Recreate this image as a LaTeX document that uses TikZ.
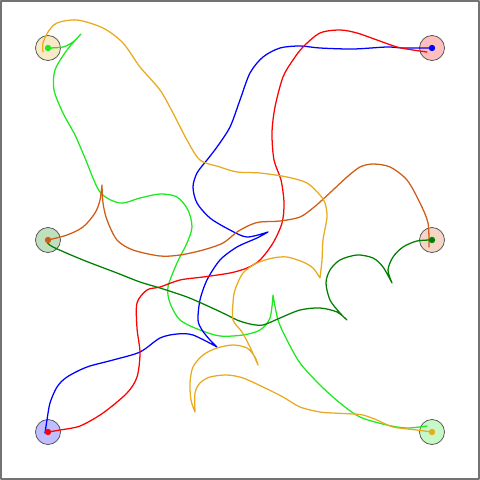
\documentclass[tikz,border=0pt]{standalone}
\definecolor{gold}{RGB}{232,170,32}
\definecolor{choc}{RGB}{208,92,22}
\definecolor{darkgreen}{RGB}{0,128,0}
\definecolor{brightgreen}{RGB}{30,232,30}
\begin{document}
\begin{tikzpicture}[x=0.5mm,y=-0.5mm,line cap=round,line join=round,
  port/.style={circle,draw=black!70,line width=1pt,minimum size=12.5mm,inner sep=0pt},
  knob/.style={circle,inner sep=0pt,minimum size=3.2mm},
  wire/.style={line width=1.8pt}]
  \useasboundingbox (0,0) rectangle (480,480);
  \draw[black!55,line width=2.8pt] (1,1) rectangle (479,479);
  \foreach \n/\x/\y/\c in {tl/48/48/gold,tr/432/48/red,ml/48/240/darkgreen,mr/432/240/choc,bl/48/432/blue,br/432/432/brightgreen} {
    \node[port,fill=\c!25] (\n) at (\x,\y) {};
  }
  % where the wires end
  \coordinate (tl-in) at ([shift={(-5,4)}]tl.center);
  \coordinate (tr-in) at ([shift={(-5,4)}]tr.center);
  \coordinate (ml-in) at ([shift={(-1,2)}]ml.center);
  \coordinate (mr-in) at ([shift={(-3,7)}]mr.center);
  \coordinate (bl-in) at ([shift={(-3,1)}]bl.center);
  \coordinate (br-in) at ([shift={(-5,-6)}]br.center);
  % tl -> br
  \draw[wire,brightgreen] plot[smooth] coordinates {(tl.center) (63,47) (73,42) (81,34)}
    -- plot[smooth] coordinates {(81,34) (67,50) (55,70) (54,90) (63,113) (75,135) (85,158) (100,192) (120,203) (140,198) (160,194) (177,197) (188,210) (192,227) (187,243) (177,263) (168,287) (170,303) (180,320) (200,330) (220,336) (243,335) (260,330) (270,318) (273,295)}
    -- plot[smooth] coordinates {(273,295) (278,320) (287,340) (300,363) (320,385) (340,403) (360,417) (387,425) (407,428) (br-in)};
  % tr -> bl
  \draw[wire,blue] plot[smooth] coordinates {(tr.center) (403,48) (387,47) (353,49) (320,48) (300,46) (280,48) (263,57) (250,73) (240,100) (230,127) (217,147) (207,160) (197,173) (193,187) (197,203) (210,218) (230,230) (247,237) (268,232)}
    -- plot[smooth] coordinates {(268,232) (257,238) (237,247) (220,260) (207,280) (200,300) (198,320) (202,330) (210,340) (217,347)}
    -- plot[smooth] coordinates {(217,347) (193,335) (177,334) (160,338) (140,352) (113,360) (87,367) (67,377) (57,387) (50,403) (47,420) (bl-in)};
  % bl -> tr
  \draw[wire,red] plot[smooth] coordinates {(bl.center) (60,430) (80,426) (103,413) (127,393) (137,377) (140,353) (137,328) (137,303) (147,290) (160,287) (180,280) (203,277) (230,273) (247,268) (260,260) (273,243) (282,223) (284,203) (281,180) (274,160) (272,133) (275,107) (283,77) (293,60) (303,47) (320,33) (340,30) (357,33) (377,40) (397,47) (413,50) (tr-in)};
  % ml -> mr
  \draw[wire,choc] plot[smooth] coordinates {(ml.center) (67,235) (83,227) (95,213) (100,200) (102,185)}
    -- plot[smooth] coordinates {(102,185) (103,203) (107,220) (117,240) (133,250) (160,256) (180,255) (203,250) (223,243) (237,232) (250,225) (260,222) (280,221) (300,217) (313,208) (320,202) (333,190) (347,177) (360,167) (373,164) (390,167) (407,180) (420,203) (428,223) (mr-in)};
  % mr -> ml
  \draw[wire,darkgreen] plot[smooth] coordinates {(mr.center) (417,241) (403,247) (393,257) (388,270) (392,283)}
    -- plot[smooth] coordinates {(392,283) (383,267) (373,258) (357,255) (340,260) (330,270) (326,283) (330,300) (340,313) (347,320)}
    -- plot[smooth] coordinates {(347,320) (337,312) (320,308) (300,310) (280,318) (263,325) (250,324) (237,320) (227,315) (210,307) (187,297) (160,288) (140,282) (117,273) (83,260) (53,247) (ml-in)};
  % br -> tl
  \draw[wire,gold] plot[smooth] coordinates {(br.center) (417,430) (393,427) (377,420) (363,415) (353,414) (333,413) (320,412) (300,407) (283,397) (263,387) (243,378) (227,375) (210,377) (200,383) (195,393) (195,412)}
    -- plot[smooth] coordinates {(195,412) (191,400) (190,383) (193,367) (203,355) (217,348) (233,345) (247,348) (255,357) (258,365)}
    -- plot[smooth] coordinates {(258,365) (250,347) (242,332) (233,320) (233,303) (235,290) (243,273) (257,263) (273,258) (287,257) (303,262) (313,268) (320,278)}
    -- plot[smooth] coordinates {(320,278) (322,260) (323,240) (327,217) (325,203) (320,195) (307,183) (287,177) (260,173) (237,172) (220,167) (200,160) (187,140) (173,113) (160,90) (140,67) (123,43) (103,28) (77,20) (57,23) (48,32) (43,43) (tl-in)};
  \foreach \n/\c in {tl/brightgreen,tr/blue,ml/choc,mr/darkgreen,bl/red,br/gold} {
    \node[knob,fill=\c] (\n-dot) at (\n) {};
  }
\end{tikzpicture}
\end{document}
